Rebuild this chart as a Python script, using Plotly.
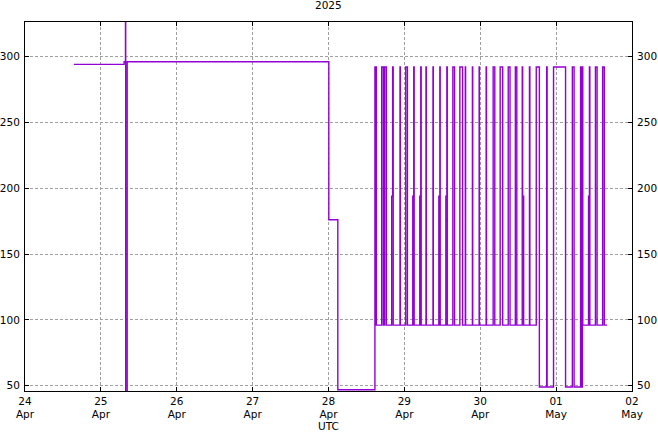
import plotly.graph_objects as go

# step series: time of change -> new value (held until next change)
times = [
    "2025-04-24 15:27", "2025-04-25 07:22", "2025-04-25 07:47", "2025-04-25 07:51", "2025-04-25 08:19",
    "2025-04-28 00:06", "2025-04-28 02:57",
    "2025-04-28 14:41", "2025-04-28 15:08", "2025-04-28 16:49", "2025-04-28 17:21",
    "2025-04-28 17:46", "2025-04-28 18:18", "2025-04-28 19:59", "2025-04-28 20:18", "2025-04-28 20:28",
    "2025-04-28 22:37", "2025-04-28 22:43",
    "2025-04-29 00:26", "2025-04-29 00:58", "2025-04-29 02:39", "2025-04-29 02:58", "2025-04-29 03:06",
    "2025-04-29 04:52", "2025-04-29 05:11", "2025-04-29 05:19", "2025-04-29 06:50", "2025-04-29 06:56",
    "2025-04-29 09:03", "2025-04-29 09:09", "2025-04-29 10:54", "2025-04-29 11:13", "2025-04-29 11:20",
    "2025-04-29 13:07", "2025-04-29 13:26", "2025-04-29 13:34", "2025-04-29 15:20", "2025-04-29 15:52",
    "2025-04-29 17:33", "2025-04-29 18:25", "2025-04-29 19:16", "2025-04-29 19:22",
    "2025-04-29 21:31", "2025-04-29 21:37", "2025-04-29 23:39", "2025-04-29 23:44",
    "2025-04-30 01:52", "2025-04-30 01:58", "2025-04-30 04:05", "2025-04-30 04:36",
    "2025-04-30 06:18", "2025-04-30 07:06", "2025-04-30 08:51", "2025-04-30 09:25",
    "2025-04-30 11:06", "2025-04-30 11:34", "2025-04-30 13:17", "2025-04-30 13:25", "2025-04-30 13:44",
    "2025-04-30 15:34", "2025-04-30 15:42", "2025-04-30 17:43", "2025-04-30 18:42",
    "2025-04-30 21:01", "2025-04-30 21:09", "2025-04-30 23:11",
    "2025-05-01 02:59", "2025-05-01 05:08", "2025-05-01 05:41", "2025-05-01 07:44", "2025-05-01 07:52",
    "2025-05-01 08:19", "2025-05-01 08:26", "2025-05-01 10:15", "2025-05-01 10:32", "2025-05-01 10:40",
    "2025-05-01 12:26", "2025-05-01 12:57", "2025-05-01 14:43", "2025-05-01 15:14", "2025-05-01 16:05",
]
values = [
    294, 296, 400, 0, 296,
    176, 47,
    292, 96, 292, 96,
    292, 96, 194, 292, 96,
    292, 96,
    292, 96, 194, 292, 96,
    194, 292, 96, 292, 96,
    292, 96, 194, 292, 96,
    194, 292, 96, 292, 96,
    292, 96, 292, 96,
    292, 96, 292, 96,
    292, 96, 292, 96,
    292, 96, 292, 96,
    292, 96, 292, 194, 96,
    292, 96, 292, 49,
    292, 49, 292,
    49, 292, 49, 292, 49,
    292, 96, 194, 292, 96,
    292, 96, 292, 96, 96,
]

x_ticks = ["2025-04-24", "2025-04-25", "2025-04-26", "2025-04-27", "2025-04-28",
           "2025-04-29", "2025-04-30", "2025-05-01", "2025-05-02"]
x_ticktext = ["24<br>Apr", "25<br>Apr", "26<br>Apr", "27<br>Apr", "28<br>Apr",
              "29<br>Apr", "30<br>Apr", "01<br>May", "02<br>May"]
y_ticks = [50, 100, 150, 200, 250, 300]
y_range = [46, 326.2]
x_range = ["2025-04-24", "2025-05-02"]

FONT = dict(family="DejaVu Sans", size=10.5, color="#000000")

fig = go.Figure()
fig.add_trace(go.Scatter(x=times, y=values, mode="lines", line=dict(color="#9400D3", width=1.4, shape="hv"),
                         showlegend=False, hoverinfo="skip"))
fig.add_trace(go.Scatter(x=[times[0]], y=[values[0]], mode="markers", yaxis="y2", opacity=0,
                         showlegend=False, hoverinfo="skip"))

axis_common = dict(showline=True, linecolor="black", linewidth=1, ticks="inside", ticklen=4,
                   tickcolor="black", tickwidth=1, tickfont=FONT, zeroline=False, automargin=False)

fig.update_layout(
    template="none",
    width=658, height=432,
    margin=dict(l=25, r=26, t=22, b=41),
    paper_bgcolor="white", plot_bgcolor="white",
    font=FONT,
    xaxis=dict(type="date", range=x_range, tickvals=x_ticks, ticktext=x_ticktext,
               showgrid=True, gridcolor="#a0a0a0", griddash="3px,2px", gridwidth=1,
               mirror="ticks", title=dict(text="UTC", font=FONT, standoff=12), **axis_common),
    yaxis=dict(range=y_range, tickvals=y_ticks, showgrid=True, gridcolor="#a0a0a0",
               griddash="3px,2px", gridwidth=1, mirror="ticks", ticklabelstandoff=2, **axis_common),
    yaxis2=dict(range=y_range, tickvals=y_ticks, overlaying="y", side="right", showgrid=False,
                ticklabelstandoff=2, **axis_common),
    annotations=[dict(text="2025", xref="paper", yref="paper", x=0.5, y=1, yanchor="middle",
                      yshift=17.5, showarrow=False, font=FONT)],
)

fig.write_html("out.html", config={"displayModeBar": False},
               post_script="document.body.style.margin='0';document.body.style.overflow='hidden';")
